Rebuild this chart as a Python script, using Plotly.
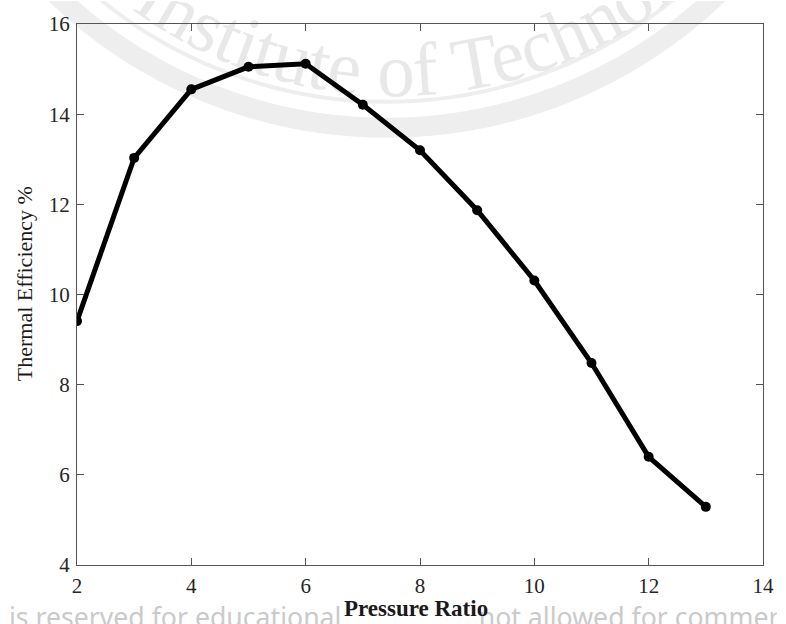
import base64
import plotly.graph_objects as go

# ---- data ----
pressure_ratio = [2, 3, 4, 5, 6, 7, 8, 9, 10, 11, 12, 13]
thermal_eff = [9.41, 13.03, 14.55, 15.05, 15.12, 14.21, 13.20, 11.87, 10.31, 8.48, 6.40, 5.29]
x_ticks = [2, 4, 6, 8, 10, 12, 14]
y_ticks = [4, 6, 8, 10, 12, 14, 16]
x_title = "Pressure Ratio"
y_title = "Thermal Efficiency %"

W, H = 786, 624
L, R, T, B = 77, 14, 23, 59
PW, PH = W - L - R, H - T - B

# ---- faint background watermark (seal + text) as an SVG image ----
cx, cy = 391, -361
tcx = 400
rt = 456
fs = 76
off = rt * 3.14159 / 2 - 3.778 * fs
svg = f'''<svg xmlns="http://www.w3.org/2000/svg" xmlns:xlink="http://www.w3.org/1999/xlink" width="{W}" height="{H}" viewBox="0 0 {W} {H}">
<defs><path id="p" d="M {tcx-rt} {cy} A {rt} {rt} 0 0 0 {tcx+rt} {cy}"/></defs>
<circle cx="{cx}" cy="{cy}" r="488" fill="none" stroke="#eeeeee" stroke-width="20"/>
<circle cx="{cx}" cy="{cy}" r="462" fill="none" stroke="#eeeeee" stroke-width="4"/>
<text font-family="Liberation Serif" font-size="{fs}" fill="#e8e8e8"><textPath xlink:href="#p" href="#p" startOffset="{off:.1f}">Institute of Technology</textPath></text>
<text x="8" y="627" font-family="Noto Sans" font-size="27" fill="#cacaca">is reserved for educational</text>
<text x="484" y="627" font-family="Noto Sans" font-size="27" fill="#cacaca">not allowed for commercial purposes</text>
</svg>'''
src = "data:image/svg+xml;base64," + base64.b64encode(svg.encode("utf-8")).decode("ascii")

fig = go.Figure()
fig.add_trace(go.Scatter(
    x=pressure_ratio, y=thermal_eff, mode="lines+markers",
    line=dict(color="#000000", width=5),
    marker=dict(color="#000000", size=10, symbol="circle"),
    showlegend=False, hoverinfo="x+y",
))

axis_common = dict(
    showline=True, linecolor="#555555", linewidth=1.3, mirror="ticks",
    ticks="inside", ticklen=7, tickwidth=1.1, tickcolor="#555555",
    showgrid=False, zeroline=False, ticklabelstandoff=2,
    tickfont=dict(family="Liberation Serif", size=21, color="#262626"),
)

fig.update_xaxes(range=[2, 14], tickvals=x_ticks, ticktext=[str(v) for v in x_ticks], **axis_common)
fig.update_yaxes(range=[4, 16], tickvals=y_ticks, ticktext=[str(v) for v in y_ticks], **axis_common)

fig.update_layout(
    width=W, height=H,
    margin=dict(l=L, r=R, t=T, b=B, pad=0),
    paper_bgcolor="white", plot_bgcolor="rgba(0,0,0,0)",
    images=[dict(source=src, xref="paper", yref="paper",
                 x=-L / PW, y=1 + T / PH, sizex=W / PW, sizey=H / PH,
                 xanchor="left", yanchor="top", sizing="stretch", layer="below")],
    annotations=[
        dict(text="<b>" + x_title + "</b>", xref="paper", yref="paper",
             x=(420 - L) / PW, y=-(B - 1) / PH, xanchor="center", yanchor="bottom",
             showarrow=False, font=dict(family="Liberation Serif", size=23, color="#1a1a1a")),
        dict(text=y_title, xref="paper", yref="paper", textangle=-90,
             x=(24 - L) / PW, y=(H - B - 283) / PH, xanchor="center", yanchor="middle",
             showarrow=False, font=dict(family="Liberation Serif", size=22, color="#1a1a1a")),
    ],
)

fig.write_html("out.html")
